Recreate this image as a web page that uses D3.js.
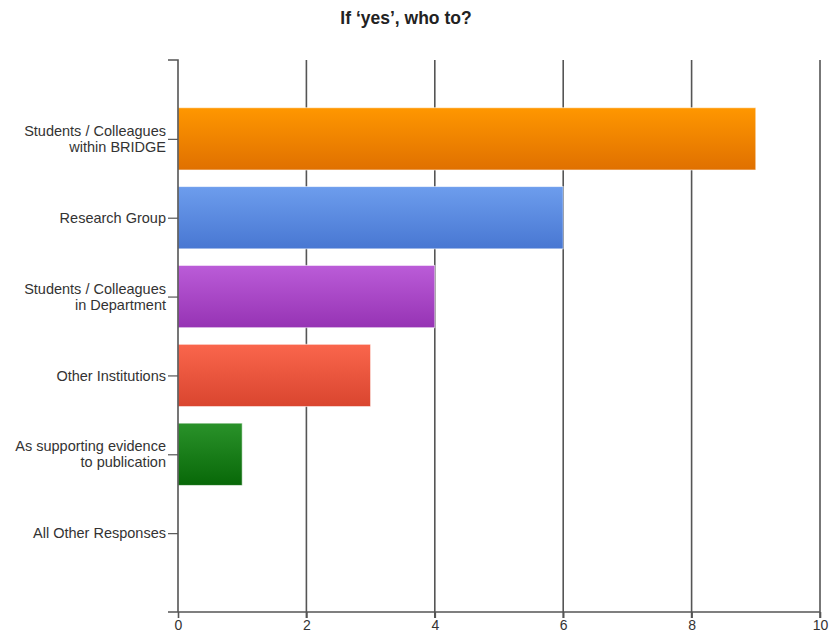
<!DOCTYPE html>
<html>
<head>
<meta charset="utf-8">
<script src="https://cdn.jsdelivr.net/npm/d3@7"></script>
<style>
  html, body { margin: 0; padding: 0; background: #fff; overflow: hidden; }
  svg { display: block; font-family: "Liberation Sans", Arial, sans-serif; }
</style>
</head>
<body>
<svg id="chart" width="831" height="641"></svg>
<script>
const categories = [
  "Students / Colleagues\nwithin BRIDGE",
  "Research Group",
  "Students / Colleagues\nin Department",
  "Other Institutions",
  "As supporting evidence\nto publication",
  "All Other Responses"
];
const counts = [9, 6, 4, 3, 1, 0];
const xTicks = [0, 2, 4, 6, 8, 10];
const barColors = [
  ["#ff9700", "#e07000"],
  ["#6d9ded", "#4877d2"],
  ["#bb5cd8", "#9633b4"],
  ["#fa664c", "#d9452f"],
  ["#2a922a", "#086808"],
  ["#999999", "#777777"]
];

const svg = d3.select('#chart');
const margin = { top: 60, left: 178, right: 11, bottom: 29 };
const width = 831, height = 641;
const innerWidth = width - margin.left - margin.right;
const innerHeight = height - margin.top - margin.bottom;

const xScale = d3.scaleLinear().domain([0, 10]).range([0, innerWidth]);
const yScale = d3.scalePoint().domain(categories).range([0, innerHeight]).padding(1);
const barH = yScale.step() * 0.79;

const defs = svg.append('defs');
barColors.forEach((c, i) => {
  const grad = defs.append('linearGradient')
    .attr('id', 'grad' + i)
    .attr('x1', 0).attr('y1', 0).attr('x2', 0).attr('y2', 1);
  grad.append('stop').attr('offset', '0%').attr('stop-color', c[0]);
  grad.append('stop').attr('offset', '100%').attr('stop-color', c[1]);
});

svg.append('text')
  .attr('x', 406).attr('y', 24)
  .attr('text-anchor', 'middle')
  .style('font-size', '17.5px')
  .style('font-weight', 'bold')
  .style('fill', '#222')
  .text('If \u2018yes\u2019, who to?');

const g = svg.append('g')
  .attr('transform', 'translate(' + margin.left + ',' + margin.top + ')');

// vertical gridlines
g.selectAll('.grid')
  .data(xTicks.filter(d => d > 0))
  .enter().append('line')
  .attr('class', 'grid')
  .attr('x1', d => xScale(d)).attr('x2', d => xScale(d))
  .attr('y1', 0).attr('y2', innerHeight + 6)
  .attr('stroke', '#555')
  .attr('stroke-width', 1.6);

// bars
g.selectAll('rect.bar')
  .data(categories)
  .enter().append('rect')
  .attr('class', 'bar')
  .attr('x', 0)
  .attr('y', d => yScale(d) - barH / 2)
  .attr('width', (d, i) => xScale(counts[i]))
  .attr('height', barH)
  .attr('fill', (d, i) => 'url(#grad' + i + ')')
  .attr('stroke', 'rgba(255,255,255,0.6)')
  .attr('stroke-width', 1)
  .style('display', (d, i) => counts[i] > 0 ? null : 'none');

// x axis
const xAxis = d3.axisBottom(xScale).tickValues(xTicks).tickSize(6).tickPadding(1).tickSizeOuter(0);
const xg = g.append('g')
  .attr('transform', 'translate(0,' + innerHeight + ')')
  .call(xAxis);
xg.select('.domain').remove();
xg.append('line')
  .attr('x1', -10).attr('x2', innerWidth)
  .attr('stroke', '#555').attr('stroke-width', 1.6);
xg.selectAll('.tick line').attr('stroke', '#555').attr('stroke-width', 1.6);
xg.selectAll('.tick text')
  .attr('dy', '0.8em')
  .style('font-size', '14px')
  .style('fill', '#333')
  .style('font-family', '"Liberation Sans", Arial, sans-serif');

// y axis
const yAxis = d3.axisLeft(yScale).tickSize(10).tickSizeOuter(10).tickFormat('');
const yg = g.append('g').call(yAxis);
yg.selectAll('.tick text').remove();
yg.select('.domain').attr('stroke', '#555').attr('stroke-width', 1.6)
  .attr('d', 'M-10,0H0V' + innerHeight);
yg.selectAll('.tick line').attr('stroke', '#555').attr('stroke-width', 1.2);

// category labels (multi-line)
categories.forEach(c => {
  const lines = c.split('\n');
  const t = g.append('text')
    .attr('text-anchor', 'end')
    .attr('x', -12)
    .attr('y', yScale(c))
    .style('font-size', '14.5px')
    .style('fill', '#333');
  lines.forEach((l, j) => {
    t.append('tspan')
      .attr('x', -12)
      .attr('dy', j === 0 ? (0.35 - (lines.length - 1) * 0.56) + 'em' : '1.12em')
      .text(l);
  });
});
</script>
</body>
</html>
